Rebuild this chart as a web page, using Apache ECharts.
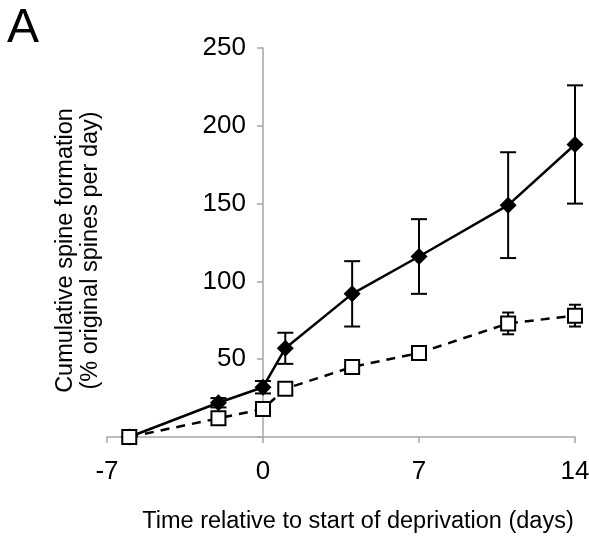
<!DOCTYPE html>
<html>
<head>
<meta charset="utf-8">
<script src="https://cdn.jsdelivr.net/npm/echarts@6/dist/echarts.min.js"></script>
<style>html,body{margin:0;padding:0;background:#fff}#c{width:589px;height:536px}</style>
</head>
<body>
<div id="c"></div>
<script>
var days = [-6, -2, 0, 1, 4, 7, 11, 14];
var controlMean = [0, 22, 32, 57, 92, 116, 149, 188];
var controlErr = [0, 3, 4, 10, 21, 24, 34, 38];
var deprivedMean = [0, 12, 18, 31, 45, 54, 73, 78];
var deprivedErr = [0, 2, 3, 2, 3, 3, 7, 7];
var xTicks = [-7, 0, 7, 14];
var yTicks = [50, 100, 150, 200, 250];

var FONT = '"Liberation Sans", Arial, Helvetica, sans-serif';

function pairs(xs, ys) { return xs.map(function (x, i) { return [x, ys[i]]; }); }
function errData(xs, ys, es) { return xs.map(function (x, i) { return [x, ys[i] - es[i], ys[i] + es[i]]; }); }

function errRender(capHalf) {
  return function (params, api) {
    var x = api.value(0), lo = api.value(1), hi = api.value(2);
    if (hi - lo <= 0) return null;
    var pLo = api.coord([x, lo]), pHi = api.coord([x, hi]);
    var st = { stroke: '#000', lineWidth: 2 };
    return {
      type: 'group',
      children: [
        { type: 'line', shape: { x1: pLo[0], y1: pLo[1], x2: pHi[0], y2: pHi[1] }, style: st },
        { type: 'line', shape: { x1: pLo[0] - capHalf, y1: pLo[1], x2: pLo[0] + capHalf, y2: pLo[1] }, style: st },
        { type: 'line', shape: { x1: pHi[0] - capHalf, y1: pHi[1], x2: pHi[0] + capHalf, y2: pHi[1] }, style: st }
      ]
    };
  };
}

var GRID_LEFT = 107, GRID_RIGHT = 14, X_MIN = -7, X_MAX = 14;
var plotW = 589 - GRID_LEFT - GRID_RIGHT;
var yAxisShift = plotW * (0 - X_MIN) / (X_MAX - X_MIN);

var chart = echarts.init(document.getElementById('c'), null, { renderer: 'canvas' });
chart.setOption({
  backgroundColor: '#fff',
  animation: false,
  title: {
    text: 'A', left: 2, top: 0,
    textStyle: { fontFamily: FONT, fontSize: 48, fontWeight: 'normal', color: '#000' }
  },
  grid: { left: GRID_LEFT, right: GRID_RIGHT, top: 48, bottom: 99, containLabel: false, outerBoundsMode: 'none' },
  xAxis: {
    type: 'value', min: X_MIN, max: X_MAX, interval: 7,
    name: 'Time relative to start of deprivation (days)',
    nameLocation: 'middle', nameGap: 73,
    nameTextStyle: { fontFamily: FONT, fontSize: 23.5, color: '#000', padding: [0, 0, 0, 34] },
    axisLine: { lineStyle: { color: '#a6a6a6', width: 1.5 } },
    axisTick: { show: true, length: 6, lineStyle: { color: '#a6a6a6', width: 1.5 } },
    axisLabel: {
      margin: 22, fontFamily: FONT, fontSize: 26, color: '#000',
      customValues: xTicks
    },
    splitLine: { show: false }
  },
  yAxis: {
    type: 'value', min: 0, max: 250, interval: 50,
    offset: -yAxisShift,
    name: 'Cumulative spine formation\n(% original spines per day)',
    nameLocation: 'middle', nameRotate: 90, nameGap: 160,
    nameTextStyle: { fontFamily: FONT, fontSize: 23.5, color: '#000', lineHeight: 25, padding: [0, 16, 0, 0] },
    axisLine: { show: true, onZero: false, lineStyle: { color: '#a6a6a6', width: 1.5 } },
    axisTick: { show: true, length: 6, lineStyle: { color: '#a6a6a6', width: 1.5 } },
    axisLabel: {
      margin: 17, fontFamily: FONT, fontSize: 26, color: '#000',
      formatter: function (v) { return yTicks.indexOf(v) >= 0 ? String(v) : ''; }
    },
    splitLine: { show: false }
  },
  series: [
    {
      name: 'control', type: 'line', data: pairs(days, controlMean),
      symbol: 'diamond', symbolSize: 17, showSymbol: true,
      lineStyle: { color: '#000', width: 2.5, type: 'solid' },
      itemStyle: { color: '#000', borderWidth: 0 },
      z: 3
    },
    {
      name: 'controlErr', type: 'custom', data: errData(days, controlMean, controlErr),
      renderItem: errRender(8), z: 2, encode: { x: 0, y: [1, 2] }
    },
    {
      name: 'deprivedErr', type: 'custom', data: errData(days, deprivedMean, deprivedErr),
      renderItem: errRender(6), z: 4, encode: { x: 0, y: [1, 2] }
    },
    {
      name: 'deprived', type: 'line', data: pairs(days, deprivedMean),
      symbol: 'rect', symbolSize: 14, showSymbol: true,
      lineStyle: { color: '#000', width: 2.5, type: [9, 7] },
      itemStyle: { color: '#fff', borderColor: '#000', borderWidth: 2 },
      z: 5
    }
  ]
});
</script>
</body>
</html>
